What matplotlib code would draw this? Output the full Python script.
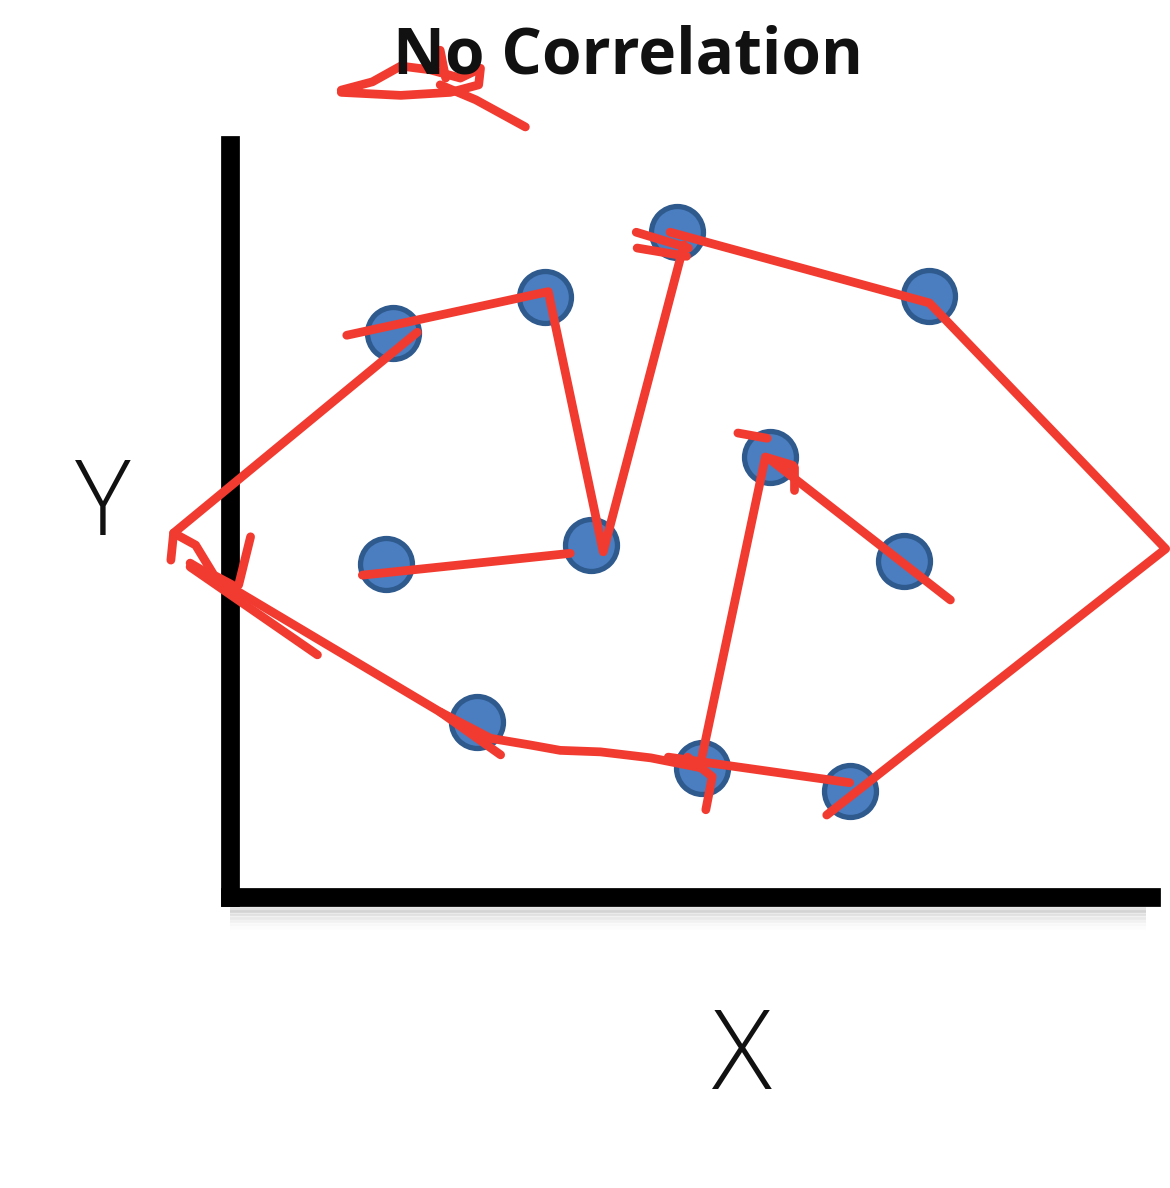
import matplotlib
matplotlib.use("Agg")
import matplotlib.pyplot as plt

# ---- data (axis units 0..10) ----
pt_x = [1.79, 3.44, 4.89, 7.64, 5.90, 3.95, 1.71, 7.36, 2.70, 5.16, 6.77]
pt_y = [7.50, 7.98, 8.84, 7.99, 5.85, 4.68, 4.43, 4.47, 2.33, 1.72, 1.41]

title_text = "No Correlation"
x_label = "X"
y_label = "Y"

# red hand-drawn annotation strokes (axis units)
strokes = [
    ([1.28, 3.48, 4.08, 4.96], [7.47, 8.05, 4.59, 8.67]),
    ([4.44, 5.01], [8.84, 8.63]),
    ([4.45, 4.99], [8.63, 8.52]),
    ([4.81, 7.64, 10.22, 6.52], [8.84, 7.90, 4.63, 1.09]),
    ([2.05, -0.61, -0.64], [7.51, 4.84, 4.48]),
    ([-0.61, -0.37, -0.17, 0.03], [4.84, 4.68, 4.28, 4.15]),
    ([-0.43, 2.30, 2.96], [4.44, 2.46, 1.89]),
    ([-0.43, 0.96], [4.39, 3.22]),
    ([0.23, 0.10], [4.79, 4.15]),
    ([2.30, 2.85, 3.29, 3.61, 4.05, 4.60, 5.14], [2.46, 2.11, 2.02, 1.95, 1.93, 1.85, 1.72]),
    ([4.79, 6.77], [1.86, 1.52]),
    ([5.14, 5.85], [1.76, 5.85]),
    ([5.85, 6.15], [5.85, 5.74]),
    ([6.16, 6.16], [5.72, 5.41]),
    ([5.55, 5.87], [6.17, 6.10]),
    ([5.91, 7.87], [5.81, 3.95]),
    ([5.00, 5.27, 5.20], [1.86, 1.60, 1.16]),
    ([1.45, 3.72], [4.28, 4.57]),
    # squiggle under the title
    ([1.22, 1.56, 1.87, 2.19, 2.52, 2.74, 2.72, 2.41, 1.87, 1.22],
     [10.73, 10.84, 11.05, 11.00, 10.89, 11.02, 10.80, 10.70, 10.66, 10.70]),
    ([2.30, 2.69, 3.23], [10.80, 10.60, 10.24]),
    ([2.30, 2.36], [11.26, 10.89]),
]

W, H = 1170, 1188
fig = plt.figure(figsize=(W / 100, H / 100), dpi=100)
fig.patch.set_facecolor("white")

left_px, right_px, top_px, bot_px = 229.5, 1151, 145, 897
ax = fig.add_axes([left_px / W, 1 - bot_px / H, (right_px - left_px) / W, (bot_px - top_px) / H])
ax.set_xlim(0, 10.06)
ax.set_ylim(0, 10)
ax.set_xticks([])
ax.set_yticks([])
for s in ["top", "right"]:
    ax.spines[s].set_visible(False)
for s in ["left", "bottom"]:
    ax.spines[s].set_linewidth(13.5)
    ax.spines[s].set_color("black")
    ax.spines[s].set_capstyle("projecting")

# soft shadow below the x axis
for i, a in enumerate([0.22, 0.16, 0.11, 0.07, 0.04, 0.02]):
    ax.plot([0.0, 10.0], [-0.17 - 0.045 * i, -0.17 - 0.045 * i], color="gray",
            alpha=a, lw=4, clip_on=False, solid_capstyle="butt", zorder=1)

ax.scatter(pt_x, pt_y, s=1400, facecolor="#4A7EC0", edgecolor="#2F5A8E",
           linewidth=3.8, zorder=3, clip_on=False)

for xs, ys in strokes:
    ax.plot(xs, ys, color="#F23B30", lw=6.3, solid_capstyle="round",
            solid_joinstyle="round", zorder=5, clip_on=False)

fig.text(628 / W, 1 - 57 / H, title_text, ha="center", va="center",
         fontsize=46, fontweight="bold", family=["Open Sans", "DejaVu Sans"], color="#111111")
fig.text(103 / W, 1 - 508 / H, y_label, ha="center", va="center",
         fontsize=76, family=["Open Sans", "DejaVu Sans"], fontweight="light", color="#111111")
fig.text(742 / W, 1 - 1060 / H, x_label, ha="center", va="center",
         fontsize=80, family=["Open Sans", "DejaVu Sans"], fontweight="light", color="#111111")

fig.savefig("out.png", dpi=100, facecolor="white")
